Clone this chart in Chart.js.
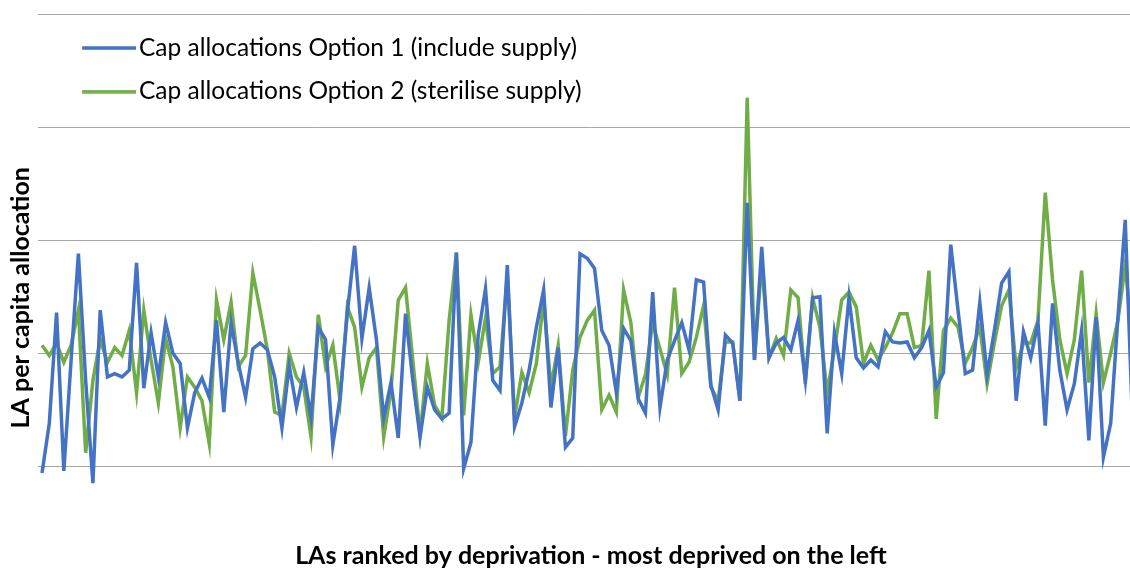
<!DOCTYPE html>
<html>
<head>
<meta charset="utf-8">
<script src="https://cdn.jsdelivr.net/npm/chart.js@4.4.1/dist/chart.umd.min.js"></script>
<style>
  html, body { margin: 0; padding: 0; background: #fff; overflow: hidden; }
  #wrap { width: 1148px; height: 571px; }
</style>
</head>
<body>
<div id="wrap"><canvas id="chart"></canvas></div>
<script>
// 152 LAs, ranked by deprivation (most deprived first)
const laRanks = Array.from({ length: 152 }, (_, i) => String(i + 1));

// Cap allocations Option 1 (include supply)
const option1 = [
  0.94, 1.38, 2.36, 0.96, 1.94, 2.88, 1.76, 0.85, 2.38, 1.79,
  1.82, 1.79, 1.85, 2.80, 1.69, 2.18, 1.79, 2.27, 2.00, 1.91,
  1.34, 1.65, 1.78, 1.61, 2.29, 1.48, 2.27, 1.91, 1.61, 2.04,
  2.09, 2.03, 1.79, 1.34, 1.89, 1.52, 1.83, 1.43, 2.23, 2.12,
  1.19, 1.61, 2.36, 2.95, 2.13, 2.58, 2.12, 1.43, 1.74, 1.25,
  2.35, 1.76, 1.26, 1.70, 1.50, 1.42, 1.47, 2.89, 0.98, 1.21,
  2.16, 2.57, 1.76, 1.67, 2.78, 1.35, 1.56, 1.85, 2.23, 2.56,
  1.52, 2.05, 1.17, 1.25, 2.88, 2.84, 2.75, 2.20, 2.07, 1.65,
  2.22, 2.11, 1.60, 1.47, 2.54, 1.52, 1.94, 2.11, 2.27, 2.03,
  2.65, 2.63, 1.72, 1.50, 2.16, 2.09, 1.58, 3.33, 1.94, 2.94,
  1.96, 2.09, 2.14, 2.03, 2.29, 1.76, 2.49, 2.50, 1.29, 2.18,
  1.82, 2.49, 1.96, 1.87, 1.94, 1.88, 2.19, 2.10, 2.09, 2.10,
  1.96, 2.05, 2.20, 1.70, 1.83, 2.96, 2.38, 1.82, 1.85, 2.45,
  1.81, 2.20, 2.62, 2.72, 1.58, 2.19, 1.96, 2.27, 1.36, 2.44,
  1.85, 1.50, 1.73, 2.20, 1.23, 2.32, 1.08, 1.38, 2.32, 3.18,
  1.39, 2.12
];

// Cap allocations Option 2 (sterilise supply)
const option2 = [
  2.07, 1.98, 2.09, 1.92, 2.07, 2.38, 1.12, 1.76, 2.12, 1.92,
  2.05, 1.98, 2.20, 1.65, 2.38, 1.94, 1.56, 2.13, 1.88, 1.34,
  1.79, 1.70, 1.58, 1.20, 2.47, 2.12, 2.45, 1.88, 1.98, 2.71,
  2.38, 2.03, 1.48, 1.45, 2.00, 1.79, 1.70, 1.26, 2.34, 1.88,
  2.07, 1.58, 2.41, 2.23, 1.70, 1.96, 2.05, 1.26, 1.67, 2.47,
  2.58, 1.94, 1.29, 1.91, 1.54, 1.43, 2.29, 2.89, 1.45, 2.34,
  1.92, 2.31, 1.82, 1.88, 2.69, 1.43, 1.83, 1.65, 1.91, 2.47,
  1.70, 2.07, 1.27, 1.85, 2.14, 2.29, 2.38, 1.50, 1.63, 1.48,
  2.56, 2.27, 1.61, 1.81, 2.27, 2.04, 1.81, 2.58, 1.82, 1.92,
  2.14, 2.42, 1.70, 1.58, 2.10, 2.10, 1.58, 4.26, 1.94, 2.80,
  1.96, 2.13, 1.98, 2.56, 2.49, 1.73, 2.49, 2.23, 1.65, 2.03,
  2.47, 2.54, 2.41, 1.91, 2.07, 1.94, 2.05, 2.18, 2.35, 2.35,
  2.05, 2.07, 2.73, 1.42, 2.20, 2.31, 2.23, 1.91, 2.05, 2.23,
  1.73, 2.09, 2.42, 2.56, 1.87, 2.09, 2.09, 2.29, 3.42, 2.65,
  2.12, 1.82, 2.12, 2.73, 1.74, 2.35, 1.74, 2.00, 2.29, 2.78,
  2.09, 2.03
];

const seriesNames = [
  'Cap allocations Option 1 (include supply)',
  'Cap allocations Option 2 (sterilise supply)'
];

const FONT = 'Lato, "Open Sans", sans-serif';

// short line sample for the legend (drawn just left of the label)
function legendLine(color) {
  const c = document.createElement('canvas');
  c.width = 88;
  c.height = 4;
  const g = c.getContext('2d');
  g.fillStyle = color;
  g.fillRect(34, 0.25, 54, 3.5);
  return c;
}

new Chart(document.getElementById('chart'), {
  type: 'line',
  data: {
    labels: laRanks,
    datasets: [{
      label: seriesNames[0],
      data: option1,
      borderColor: '#4472c4',
      backgroundColor: '#4472c4',
      borderWidth: 3.5,
      pointRadius: 0,
      pointStyle: legendLine('#4472c4'),
      tension: 0
    }, {
      label: seriesNames[1],
      data: option2,
      borderColor: '#70ad47',
      backgroundColor: '#70ad47',
      borderWidth: 3.5,
      pointRadius: 0,
      pointStyle: legendLine('#70ad47'),
      tension: 0
    }]
  },
  options: {
    responsive: true,
    maintainAspectRatio: false,
    animation: false,
    layout: { padding: { left: 4, top: 14, right: 4.6, bottom: 0 } },
    plugins: {
      tooltip: { enabled: false },
      legend: {
        position: 'chartArea',
        align: 'start',
        title: { display: true, text: '', padding: 0, font: { size: 14 } },
        labels: {
          usePointStyle: true,
          pointStyleWidth: 69.35,
          padding: 19,
          color: '#000',
          font: { family: FONT, size: 24.5 }
        }
      }
    },
    scales: {
      x: {
        offset: true,
        grid: { display: false, drawTicks: false },
        border: { display: false },
        ticks: { display: false },
        title: {
          display: true,
          text: 'LAs ranked by deprivation - most deprived on the left',
          color: '#000',
          font: { family: FONT, size: 25, weight: 'bold' },
          padding: { top: 8, bottom: 0 }
        }
      },
      y: {
        min: 0.41,
        max: 5,
        ticks: { display: false, stepSize: 1 },
        afterBuildTicks: axis => {
          axis.ticks = axis.ticks.filter(t => Number.isInteger(t.value));
        },
        grid: { color: '#a6a6a6', lineWidth: 1, drawTicks: false },
        border: { display: false },
        title: {
          display: true,
          text: 'LA per capita allocation        ',
          color: '#000',
          font: { family: FONT, size: 25, weight: 'bold' },
          padding: { top: 2, bottom: 2.4 }
        }
      }
    }
  }
});
</script>
</body>
</html>
